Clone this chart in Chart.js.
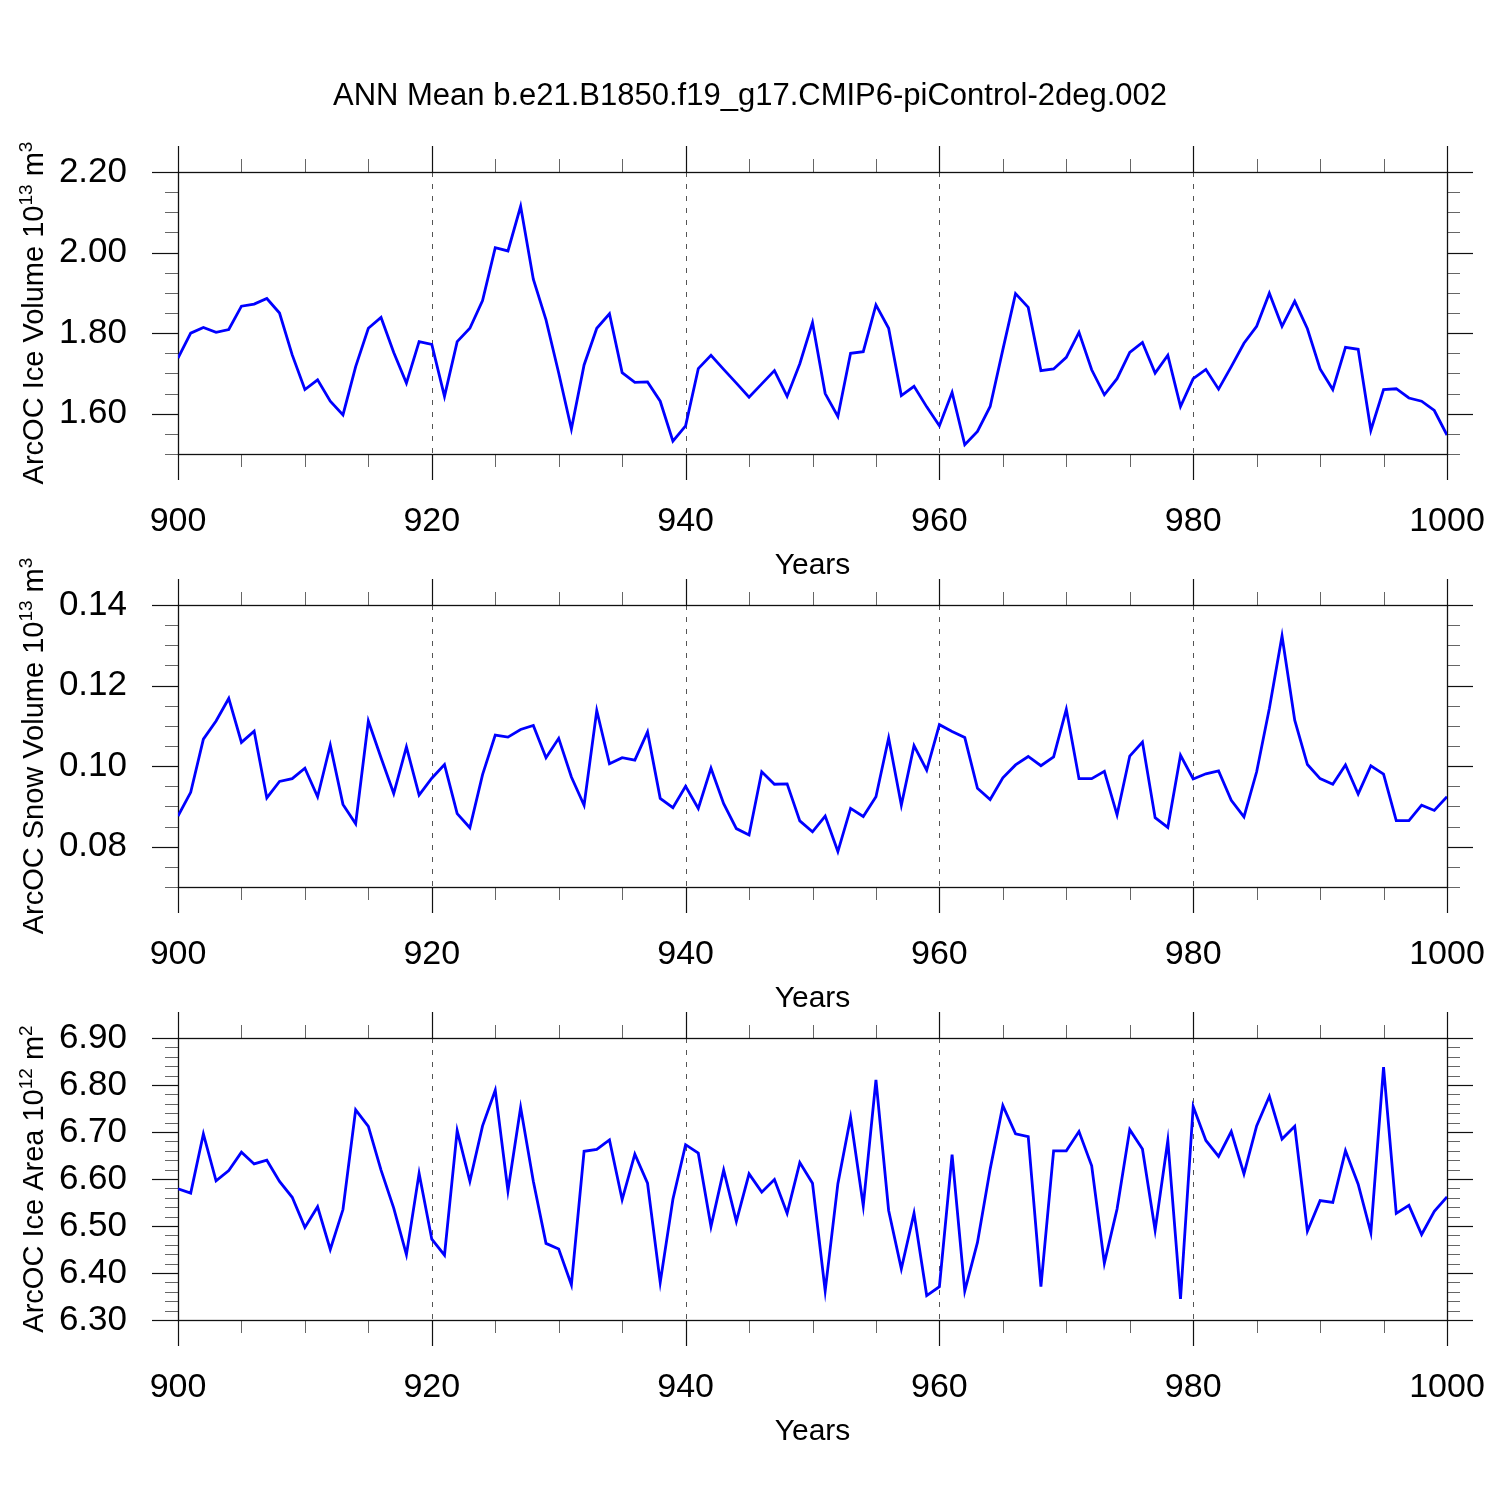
<!DOCTYPE html>
<html>
<head>
<meta charset="utf-8">
<script src="https://cdn.jsdelivr.net/npm/chart.js@4.4.1/dist/chart.umd.min.js"></script>
<style>
  html, body { margin: 0; padding: 0; background: #fff; }
  body { width: 1500px; height: 1500px; position: relative; overflow: hidden; }
  canvas { position: absolute; left: 0; }
</style>
</head>
<body>
<canvas id="c1" style="top:0px"></canvas>
<canvas id="c2" style="top:433px"></canvas>
<canvas id="c3" style="top:866px"></canvas>
<script>
// years 900..1000, one value per year
const years = Array.from({length: 101}, (_, i) => 900 + i)

const iceVolume = [
  1.738, 1.800, 1.814, 1.802, 1.809, 1.867, 1.872, 1.886, 1.850, 1.746,
  1.660, 1.684, 1.631, 1.597, 1.717, 1.812, 1.839, 1.752, 1.676, 1.779,
  1.772, 1.643, 1.779, 1.812, 1.881, 2.012, 2.004, 2.115, 1.934, 1.833,
  1.701, 1.562, 1.721, 1.812, 1.848, 1.702, 1.678, 1.679, 1.631, 1.532,
  1.570, 1.712, 1.745, 1.710, 1.676, 1.641, 1.674, 1.707, 1.643, 1.724,
  1.826, 1.650, 1.593, 1.750, 1.754, 1.870, 1.812, 1.645, 1.668, 1.617,
  1.570, 1.653, 1.523, 1.556, 1.618, 1.759, 1.898, 1.864, 1.707, 1.711,
  1.740, 1.802, 1.709, 1.647, 1.687, 1.752, 1.777, 1.701, 1.745, 1.618,
  1.687, 1.710, 1.661, 1.717, 1.775, 1.817, 1.899, 1.817, 1.879, 1.811,
  1.711, 1.660, 1.765, 1.760, 1.559, 1.660, 1.662, 1.639, 1.631, 1.608,
  1.547
]

const snowVolume = [
  0.0876, 0.0935, 0.1067, 0.1112, 0.1168, 0.1059, 0.1087, 0.0921, 0.0962, 0.0969,
  0.0995, 0.0924, 0.1052, 0.0905, 0.0857, 0.1112, 0.1021, 0.0932, 0.1048, 0.0928,
  0.0970, 0.1004, 0.0882, 0.0847, 0.0979, 0.1077, 0.1072, 0.1091, 0.1101, 0.1021,
  0.1069, 0.0973, 0.0903, 0.1138, 0.1006, 0.1021, 0.1015, 0.1085, 0.0920, 0.0897,
  0.0950, 0.0895, 0.0995, 0.0907, 0.0845, 0.0829, 0.0986, 0.0955, 0.0956, 0.0864,
  0.0837, 0.0876, 0.0788, 0.0895, 0.0875, 0.0924, 0.1070, 0.0903, 0.1051, 0.0990,
  0.1103, 0.1086, 0.1071, 0.0945, 0.0917, 0.0971, 0.1003, 0.1024, 0.1001, 0.1023,
  0.1141, 0.0969, 0.0969, 0.0987, 0.0879, 0.1025, 0.1060, 0.0872, 0.0848, 0.1027,
  0.0968, 0.0981, 0.0988, 0.0915, 0.0874, 0.0986, 0.1143, 0.1323, 0.1114, 0.1004,
  0.0969, 0.0955, 0.1003, 0.0931, 0.1001, 0.0980, 0.0865, 0.0865, 0.0903, 0.0890,
  0.0924
]

const iceArea = [
  6.579, 6.570, 6.696, 6.596, 6.618, 6.657, 6.632, 6.640, 6.595, 6.561,
  6.497, 6.541, 6.450, 6.535, 6.747, 6.712, 6.619, 6.538, 6.439, 6.612,
  6.472, 6.438, 6.703, 6.595, 6.713, 6.789, 6.575, 6.752, 6.595, 6.463,
  6.451, 6.375, 6.659, 6.663, 6.683, 6.556, 6.653, 6.591, 6.380, 6.557,
  6.673, 6.655, 6.499, 6.619, 6.510, 6.611, 6.572, 6.599, 6.527, 6.635,
  6.591, 6.362, 6.590, 6.731, 6.543, 6.811, 6.533, 6.409, 6.527, 6.352,
  6.371, 6.652, 6.362, 6.465, 6.621, 6.756, 6.696, 6.690, 6.371, 6.660,
  6.660, 6.701, 6.628, 6.421, 6.536, 6.705, 6.664, 6.491, 6.682, 6.345,
  6.754, 6.682, 6.648, 6.701, 6.611, 6.713, 6.776, 6.685, 6.712, 6.489,
  6.554, 6.550, 6.660, 6.589, 6.486, 6.838, 6.527, 6.544, 6.482, 6.531,
  6.562
]

const yearTicks = [900, 920, 940, 960, 980, 1000]
const iceVolTicks = [1.6, 1.8, 2.0, 2.2]
const snowVolTicks = [0.08, 0.10, 0.12, 0.14]
const iceAreaTicks = [6.3, 6.4, 6.5, 6.6, 6.7, 6.8, 6.9]

const titleText = 'ANN Mean b.e21.B1850.f19_g17.CMIP6-piControl-2deg.002'
const FONT = "'Liberation Sans', Arial, Helvetica, sans-serif"

// NCL style frame: box, outward ticks on all four sides, dashed grid, rotated y title
const nclFrame = {
  id: 'nclFrame',
  beforeDatasetsDraw(chart, args, o) {
    const ctx = chart.ctx
    const xs = chart.scales.x, ys = chart.scales.y
    const l = xs.getPixelForValue(xs.min), r = xs.getPixelForValue(xs.max)
    const t = ys.getPixelForValue(ys.max), b = ys.getPixelForValue(ys.min)
    const line = (x1, y1, x2, y2) => { ctx.beginPath(); ctx.moveTo(x1, y1); ctx.lineTo(x2, y2); ctx.stroke() }
    ctx.save()

    ctx.strokeStyle = '#555'
    ctx.lineWidth = 1
    ctx.setLineDash([5, 7])
    yearTicks.slice(1, -1).forEach(v => {
      const px = Math.round(xs.getPixelForValue(v)) + 0.5
      line(px, t, px, b)
    })
    ctx.setLineDash([])

    // minor ticks
    ctx.strokeStyle = '#666'
    ctx.lineWidth = 1
    for (let v = xs.min; v <= xs.max; v += 5) {
      if (yearTicks.includes(v)) continue
      const px = Math.round(xs.getPixelForValue(v)) + 0.5
      line(px, t - 13, px, t)
      line(px, b, px, b + 13)
    }
    const n = Math.round((ys.max - ys.min) / o.minor)
    for (let i = 0; i <= n; i++) {
      const v = ys.min + i * o.minor
      if (o.majors.some(m => Math.abs(m - v) < o.minor / 10)) continue
      const py = Math.round(ys.getPixelForValue(v)) + 0.5
      line(l - 13, py, l, py)
      line(r, py, r + 13, py)
    }

    // major ticks
    ctx.strokeStyle = '#111'
    ctx.lineWidth = 1.2
    yearTicks.forEach(v => {
      const px = Math.round(xs.getPixelForValue(v)) + 0.5
      line(px, t - 26, px, t)
      line(px, b, px, b + 26)
    })
    o.majors.forEach(v => {
      const py = Math.round(ys.getPixelForValue(v)) + 0.5
      line(l - 26, py, l, py)
      line(r, py, r + 26, py)
    })

    // box
    ctx.strokeStyle = '#111'
    ctx.lineWidth = 1.3
    ctx.strokeRect(Math.round(l) + 0.5, Math.round(t) + 0.5, Math.round(r - l), Math.round(b - t))
    ctx.restore()
  },
  afterDraw(chart, args, o) {
    const ctx = chart.ctx
    const ys = chart.scales.y
    const t = ys.getPixelForValue(ys.max), b = ys.getPixelForValue(ys.min)
    ctx.save()
    ctx.fillStyle = '#000'
    if (o.title) {
      ctx.font = '31px ' + FONT
      ctx.textAlign = 'center'
      ctx.textBaseline = 'middle'
      ctx.fillText(o.title, 750, 96)
    }
    // y title with superscripts, read bottom to top
    const big = '29px ' + FONT, small = '19px ' + FONT
    const parts = o.ytitle
    let total = 0
    parts.forEach(p => { ctx.font = p.sup ? small : big; total += ctx.measureText(p.s).width })
    ctx.translate(43, (t + b) / 2)
    ctx.rotate(-Math.PI / 2)
    ctx.textAlign = 'left'
    ctx.textBaseline = 'alphabetic'
    let x = -total / 2
    parts.forEach(p => {
      ctx.font = p.sup ? small : big
      ctx.fillText(p.s, x, p.sup ? -11 : 0)
      x += ctx.measureText(p.s).width
    })
    ctx.restore()
  }
}

function makePanel(id, values, yMin, yMax, majors, minor, ytitle, title) {
  const canvas = document.getElementById(id)
  canvas.width = 1500
  canvas.height = 600
  canvas.style.width = '1500px'
  canvas.style.height = '600px'
  return new Chart(canvas, {
    type: 'line',
    data: {
      labels: years,
      datasets: [{
        data: values,
        borderColor: '#0000ff',
        borderWidth: 2.8,
        pointRadius: 0,
        tension: 0,
        fill: false
      }]
    },
    options: {
      responsive: false,
      animation: false,
      devicePixelRatio: 1,
      layout: { padding: { top: 172, right: 53, left: 0, bottom: 0 } },
      plugins: {
        legend: { display: false },
        tooltip: { enabled: false },
        nclFrame: { majors: majors, minor: minor, ytitle: ytitle, title: title }
      },
      scales: {
        x: {
          type: 'linear',
          min: 900,
          max: 1000,
          grid: { display: false, drawTicks: false },
          border: { display: false },
          afterBuildTicks: s => { s.ticks = yearTicks.map(v => ({ value: v })) },
          afterFit: s => { s.height = 146; s.paddingLeft = 0; s.paddingRight = 0 },
          ticks: {
            padding: 47,
            maxRotation: 0,
            autoSkip: false,
            color: '#000',
            font: { family: FONT, size: 34 },
            callback: v => String(v)
          },
          title: {
            display: true,
            text: 'Years',
            color: '#000',
            font: { family: FONT, size: 30 },
            padding: { top: 0, bottom: 16 }
          }
        },
        y: {
          min: yMin,
          max: yMax,
          grid: { display: false, drawTicks: false },
          border: { display: false },
          afterBuildTicks: s => { s.ticks = majors.map(v => ({ value: v })) },
          afterFit: s => { s.width = 178; s.paddingTop = 0; s.paddingBottom = 0 },
          ticks: {
            padding: 51,
            autoSkip: false,
            color: '#000',
            font: { family: FONT, size: 35 },
            callback: v => v.toFixed(2)
          }
        }
      }
    },
    plugins: [nclFrame]
  })
}

makePanel('c1', iceVolume, 1.5, 2.2, iceVolTicks, 0.05,
  [{ s: 'ArcOC Ice Volume 10' }, { s: '13', sup: true }, { s: ' m' }, { s: '3', sup: true }], titleText)
makePanel('c2', snowVolume, 0.07, 0.14, snowVolTicks, 0.005,
  [{ s: 'ArcOC Snow Volume 10' }, { s: '13', sup: true }, { s: ' m' }, { s: '3', sup: true }], null)
makePanel('c3', iceArea, 6.3, 6.9, iceAreaTicks, 0.02,
  [{ s: 'ArcOC Ice Area 10' }, { s: '12', sup: true }, { s: ' m' }, { s: '2', sup: true }], null)
</script>
</body>
</html>
